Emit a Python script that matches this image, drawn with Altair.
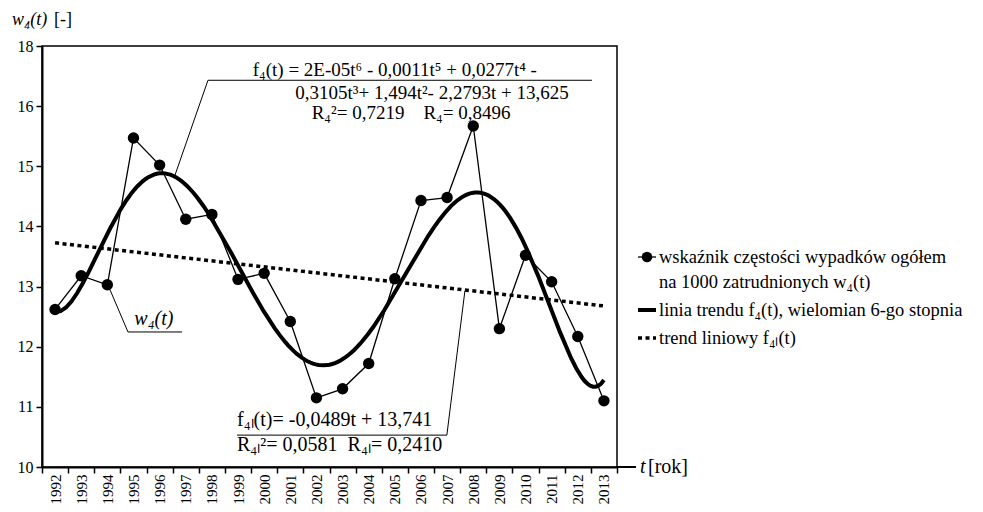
import altair as alt
import pandas as pd

# ---------------- data ----------------
years = list(range(1992, 2014))
w4_values = [12.62, 13.18, 13.03, 15.47, 15.02, 14.12, 14.20, 13.12, 13.22, 12.42, 11.15,
             11.30, 11.72, 13.13, 14.43, 14.48, 15.67, 12.30, 13.52, 13.08, 12.17, 11.10]
y_tick_values = [10, 11, 12, 13, 14, 15, 16, 17]

legend_labels = [
    "wskaźnik częstości wypadków ogółem",
    "na 1000 zatrudnionych w₄(t)",
    "linia trendu f₄(t), wielomian 6-go stopnia",
    "trend liniowy f₄ₗ(t)",
]
eq_poly = ["f₄(t) = 2E-05t⁶ - 0,0011t⁵ + 0,0277t⁴ -",
           "0,3105t³+ 1,494t²- 2,2793t + 13,625",
           "R₄²= 0,7219\u00a0\u00a0\u00a0\u00a0R₄= 0,8496"]
eq_lin = ["f₄ₗ(t)= -0,0489t + 13,741",
          "R₄ₗ²= 0,0581\u00a0\u00a0R₄ₗ= 0,2410"]

# annotation anchors (data units: t = 1..22, value)
lead_poly_t = [5.59, 6.85, 21.54]
lead_poly_w = [14.855, 16.43, 16.43]
lead_lin_t = [16.68, 15.99, 7.96]
lead_lin_w = [12.925, 10.53, 10.53]
lead_w_t = [3.02, 3.79, 5.86]
lead_w_w = [13.03, 12.245, 12.245]

df = pd.DataFrame({"year": [str(y) for y in years],
                   "t": list(range(1, len(years) + 1)),
                   "w": w4_values})

W, H = 575, 421
FONT = "Liberation Serif"
FS = 20

xq = alt.X("t:Q", scale=alt.Scale(domain=[0.5, 22.5], nice=False, zero=False), axis=None)
yq = alt.Y("w:Q", scale=alt.Scale(domain=[10, 17], nice=False, zero=False),
           axis=alt.Axis(values=y_tick_values, title=None,
                         labelExpr="datum.value == 17 ? '18' : datum.label",
                         tickSize=6, labelPadding=3, grid=False,
                         labelFont=FONT, labelFontSize=16, labelColor="black"))

axis_layer = alt.Chart(df).mark_point(opacity=0).encode(
    x=alt.X("year:O", scale=alt.Scale(type="band", paddingInner=0, paddingOuter=0),
            axis=alt.Axis(tickBand="extent", labelAngle=270, title=None, tickSize=6,
                          labelPadding=1, labelFont=FONT, labelFontSize=15,
                          labelColor="black", grid=False)),
    y=yq,
)

base = alt.Chart(df)
line = base.mark_line(color="black", strokeWidth=1.3).encode(x=xq, y=yq)
pts = base.mark_circle(color="black", opacity=1, size=130).encode(x=xq, y=yq)
poly = base.transform_regression("t", "w", method="poly", order=6).mark_line(
    color="black", strokeWidth=4).encode(x=xq, y=yq)
lin = base.transform_regression("t", "w", method="linear").mark_line(
    color="black", strokeWidth=3.5, strokeDash=[4, 3.5]).encode(x=xq, y=yq)


def leader(ts, ws):
    d = pd.DataFrame({"t": ts, "w": ws, "o": list(range(len(ts)))})
    return alt.Chart(d).mark_line(color="black", strokeWidth=1).encode(
        x=xq, y=yq, order="o:Q")


leaders = [leader(lead_poly_t, lead_poly_w), leader(lead_lin_t, lead_lin_w),
           leader(lead_w_t, lead_w_w)]

# equation text (anchored in data units)
poly_txt = pd.DataFrame({"t": [14.0, 15.42, 14.62], "w": [16.6, 16.22, 15.88], "s": eq_poly})
poly_text = alt.Chart(poly_txt).mark_text(font=FONT, fontSize=19, align="center",
                                          baseline="middle", color="black").encode(
    x=xq, y=yq, text="s:N")
lin_txt = pd.DataFrame({"t": [7.96, 7.96], "w": [10.78, 10.37], "s": eq_lin})
lin_text = alt.Chart(lin_txt).mark_text(font=FONT, fontSize=FS, align="left",
                                        baseline="middle", color="black").encode(
    x=xq, y=yq, text="s:N")
w_txt = pd.DataFrame({"t": [4.78], "w": [12.46], "s": ["w₄(t)"]})
w_text = alt.Chart(w_txt).mark_text(font=FONT, fontSize=FS, align="center", fontStyle="italic",
                                    baseline="middle", color="black").encode(
    x=xq, y=yq, text="s:N")

one = pd.DataFrame({"a": [0]})


def txt(s, x, y, italic=False, align="left", size=FS):
    return alt.Chart(one).mark_text(text=s, font=FONT, fontSize=size, align=align,
                                    baseline="middle", color="black",
                                    fontStyle="italic" if italic else "normal").encode(
        x=alt.value(x), y=alt.value(y))


def seg(x1, x2, y, width=1.0, dash=None):
    kw = dict(color="black", strokeWidth=width)
    if dash:
        kw["strokeDash"] = dash
    return alt.Chart(one).mark_rule(**kw).encode(x=alt.value(x1), x2=alt.value(x2), y=alt.value(y))


# titles
deco = [
    txt("w₄(t)", -30, -26, italic=True, size=18),
    txt("[-]", 12, -26, size=18),
    seg(575, 594, 421, width=2),
    txt("t", 598, 421, italic=True),
    txt("[rok]", 606, 421),
]

# custom legend
LX1, LX2, LT = 596, 614, 617
LFS = 18.5
legend = [
    seg(LX1, LX2, 211, width=1.3),
    alt.Chart(one).mark_circle(color="black", opacity=1, size=110).encode(
        x=alt.value(605), y=alt.value(211)),
    txt(legend_labels[0], LT, 211, size=LFS),
    txt(legend_labels[1], LT, 236, size=LFS),
    seg(LX1, LX2, 264, width=4),
    txt(legend_labels[2], LT, 264, size=LFS),
    seg(LX1, LX2, 292, width=3.5, dash=[4, 3.5]),
    txt(legend_labels[3], LT, 292, size=LFS),
]

chart = alt.layer(axis_layer, line, poly, lin, pts, *leaders, poly_text, lin_text, w_text,
                  *deco, *legend).resolve_scale(x="independent").properties(
    width=W, height=H,
    background="white",
    autosize=alt.AutoSizeParams(type="none"),
    padding={"left": 34, "top": 38, "right": 358, "bottom": 37},
).configure_view(stroke="black", strokeWidth=1.5).configure_axis(
    domainColor="black", domainWidth=2, tickColor="black", tickWidth=1.5,
    labelColor="black", labelFont=FONT, labelFontSize=16,
)

chart.save("out.html", embed_options={"renderer": "svg", "actions": False})
